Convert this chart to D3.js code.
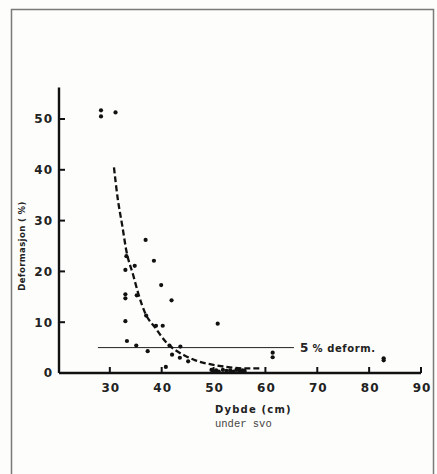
<!DOCTYPE html>
<html>
<head>
<meta charset="utf-8">
<script src="https://cdn.jsdelivr.net/npm/d3@7"></script>
<style>
  body { margin: 0; background: #fdfdfb; }
  svg { display: block; }
</style>
</head>
<body>
<div id="chart"></div>
<script>
// depth (cm) and deformation (%) of the measured points
var depth = [28.3, 28.3, 31.1, 36.9, 33.2, 38.5, 33.0, 34.8, 39.9, 33.0, 33.0, 35.2, 41.9,
             33.0, 37.0, 38.9, 40.2, 33.3, 35.1, 37.3, 41.5, 43.6, 42.0, 43.5, 45.1, 40.8,
             50.8, 61.4, 61.4, 82.8, 82.8,
             49.6, 50.0, 50.5, 51.0, 51.8, 52.5, 53.2, 53.8, 54.4, 55.0, 55.6, 56.0];
var deform = [51.7, 50.5, 51.3, 26.2, 23.0, 22.1, 20.3, 21.1, 17.3, 15.5, 14.7, 15.3, 14.3,
              10.2, 11.3, 9.3, 9.3, 6.3, 5.4, 4.3, 5.4, 5.2, 3.6, 3.0, 2.3, 1.2,
              9.7, 4.0, 3.1, 2.9, 2.5,
              0.6, 0.3, 0.5, 0.3, 0.6, 0.4, 0.5, 0.3, 0.6, 0.4, 0.5, 0.4];

// dashed fitted curve
var curveX = [30.8, 31.5, 32.4, 33.2, 34.5, 35.5, 36.9, 38.7, 40.9, 42.5, 44.5, 46.5, 48.5, 50.6, 53.2, 56.4, 59.3];
var curveY = [40.5, 34.5, 29.0, 24.0, 19.3, 15.6, 11.6, 9.0, 6.0, 4.6, 3.4, 2.5, 1.9, 1.5, 1.1, 0.9, 0.9];

// 5 % reference line
var refLevel = 5;
var refFrom = 27.7, refTo = 65.5;

var xTicks = [30, 40, 50, 60, 70, 80, 90];
var yTicks = [10, 20, 30, 40, 50];

var width = 437, height = 474;

var svg = d3.select("#chart").append("svg")
    .attr("width", width)
    .attr("height", height);

// frame around the figure
svg.append("rect")
    .attr("x", 11.5)
    .attr("y", 9.5)
    .attr("width", 422)
    .attr("height", 480)
    .style("fill", "none")
    .style("stroke", "#7a7a7a")
    .style("stroke-width", 1.5);

var x = d3.scaleLinear()
    .domain([20.2, 90])
    .range([59, 421]);

var y = d3.scaleLinear()
    .domain([0, 50])
    .range([373, 119]);

var g = svg.append("g");

// axes
g.append("line")
    .attr("x1", x(20.2)).attr("x2", x(90))
    .attr("y1", y(0)).attr("y2", y(0))
    .style("stroke", "#111").style("stroke-width", 2.4);

g.append("line")
    .attr("x1", x(20.2)).attr("x2", x(20.2))
    .attr("y1", y(0)).attr("y2", y(56.2))
    .style("stroke", "#111").style("stroke-width", 2.4);

g.selectAll(".xtick")
    .data(xTicks)
  .enter().append("line")
    .attr("class", "xtick")
    .attr("x1", function(d) { return x(d); })
    .attr("x2", function(d) { return x(d); })
    .attr("y1", y(0))
    .attr("y2", y(0) - 6)
    .style("stroke", "#111").style("stroke-width", 2);

g.selectAll(".xlabel")
    .data(xTicks)
  .enter().append("text")
    .attr("class", "xlabel")
    .attr("x", function(d) { return x(d) + 1; })
    .attr("y", y(0) + 19)
    .attr("text-anchor", "middle")
    .style("font-family", "DejaVu Sans")
    .style("font-weight", "bold")
    .style("font-size", "12px")
    .style("letter-spacing", "1px")
    .style("fill", "#222")
    .text(function(d) { return d; });

g.selectAll(".ytick")
    .data(yTicks)
  .enter().append("line")
    .attr("class", "ytick")
    .attr("x1", x(20.2))
    .attr("x2", x(20.2) + 6)
    .attr("y1", function(d) { return y(d); })
    .attr("y2", function(d) { return y(d); })
    .style("stroke", "#111").style("stroke-width", 2);

g.selectAll(".ylabel")
    .data([0].concat(yTicks))
  .enter().append("text")
    .attr("class", "ylabel")
    .attr("x", 53)
    .attr("y", function(d) { return y(d); })
    .attr("dy", ".36em")
    .attr("text-anchor", "end")
    .style("font-family", "DejaVu Sans")
    .style("font-weight", "bold")
    .style("font-size", "12px")
    .style("letter-spacing", "1px")
    .style("fill", "#222")
    .text(function(d) { return d; });

// axis titles
svg.append("text")
    .attr("transform", "translate(25,246) rotate(-90)")
    .attr("text-anchor", "middle")
    .style("font-family", "DejaVu Sans")
    .style("font-weight", "bold")
    .style("font-size", "8.5px")
    .style("letter-spacing", "0.4px")
    .style("fill", "#222")
    .text("Deformasjon ( %)");

svg.append("text")
    .attr("x", 215)
    .attr("y", 413)
    .style("font-family", "DejaVu Sans")
    .style("font-weight", "bold")
    .style("font-size", "10px")
    .style("letter-spacing", "1.2px")
    .style("fill", "#222")
    .text("Dybde (cm)");

svg.append("text")
    .attr("x", 215)
    .attr("y", 427)
    .style("font-family", "Liberation Mono")
    .style("font-size", "10.5px")
    .style("fill", "#444")
    .text("under svo");

// 5 % line
g.append("line")
    .attr("x1", x(refFrom)).attr("x2", x(refTo))
    .attr("y1", y(refLevel)).attr("y2", y(refLevel))
    .style("stroke", "#222").style("stroke-width", 1);

var lab = g.append("text")
    .attr("x", x(refTo) + 6)
    .attr("y", y(refLevel) + 4)
    .style("font-family", "DejaVu Sans")
    .style("font-weight", "bold")
    .style("fill", "#222");
lab.append("tspan").style("font-size", "12px").text("5 ");
lab.append("tspan").style("font-size", "10px").style("letter-spacing", "0.6px").text("% deform.");

// dashed fitted curve
var line = d3.line()
    .x(function(d) { return x(d[0]); })
    .y(function(d) { return y(d[1]); })
    .curve(d3.curveMonotoneX);

g.append("path")
    .datum(d3.zip(curveX, curveY))
    .attr("d", line)
    .style("fill", "none")
    .style("stroke", "#111")
    .style("stroke-width", 2.3)
    .style("stroke-dasharray", "6,3");

// data points
g.selectAll(".dot")
    .data(d3.zip(depth, deform))
  .enter().append("circle")
    .attr("class", "dot")
    .attr("cx", function(d) { return x(d[0]); })
    .attr("cy", function(d) { return y(d[1]); })
    .attr("r", 2.1)
    .style("fill", "#111");
</script>
</body>
</html>
